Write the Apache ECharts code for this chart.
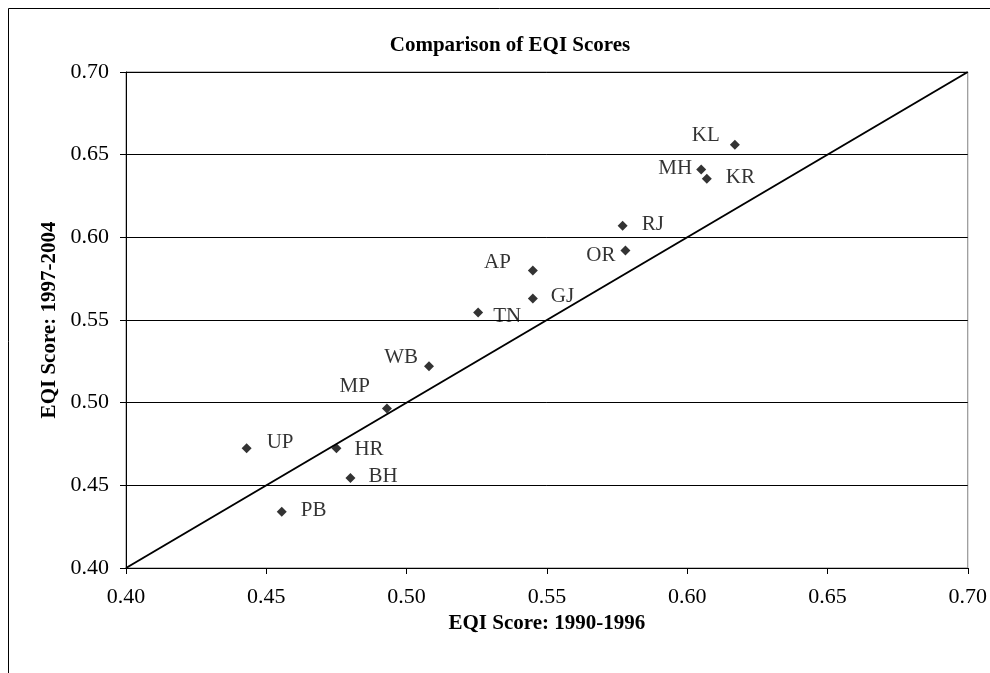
<!DOCTYPE html>
<html>
<head>
<meta charset="utf-8">
<script src="https://cdn.jsdelivr.net/npm/echarts@6/dist/echarts.min.js"></script>
<style>
html,body{margin:0;padding:0;background:#fff;}
#chart{width:990px;height:673px;}
</style>
</head>
<body>
<div id="chart"></div>
<script>
// ---- data ----
var states = ['KL','MH','KR','RJ','OR','AP','GJ','TN','WB','MP','UP','HR','BH','PB'];
var score1990 = [0.617,0.605,0.607,0.577,0.578,0.545,0.545,0.5255,0.508,0.493,0.443,0.475,0.480,0.4555];
var score1997 = [0.656,0.641,0.6355,0.607,0.592,0.580,0.563,0.5545,0.522,0.4965,0.4725,0.4725,0.4545,0.434];
var tickValues = [0.40,0.45,0.50,0.55,0.60,0.65,0.70];
var equalityLine = [[0.40,0.40],[0.70,0.70]];

// label placement (style only)
var labelStyle = {
  KL:{position:'left',distance:10,offset:[0,-9]},
  MH:{position:'left',distance:4,offset:[0,-1]},
  KR:{position:'right',distance:14,offset:[0,-1]},
  RJ:{position:'right',distance:14,offset:[0,-1]},
  OR:{position:'left',distance:5,offset:[0,5]},
  AP:{position:'left',distance:17,offset:[0,-8]},
  GJ:{position:'right',distance:13,offset:[0,-2]},
  TN:{position:'right',distance:10,offset:[0,4]},
  WB:{position:'left',distance:6,offset:[0,-9]},
  MP:{position:'left',distance:12,offset:[0,-22]},
  UP:{position:'right',distance:15,offset:[0,-6]},
  HR:{position:'right',distance:13,offset:[0,1]},
  BH:{position:'right',distance:13,offset:[0,-1]},
  PB:{position:'right',distance:14,offset:[0,-1]}
};

var FONT = '"Liberation Serif", "Times New Roman", serif';
var points = states.map(function(s,i){
  var ls = labelStyle[s];
  return {name:s, value:[score1990[i],score1997[i]],
    label:{show:true, formatter:s, position:ls.position, distance:ls.distance, offset:ls.offset}};
});

var chart = echarts.init(document.getElementById('chart'), null, {renderer:'canvas'});
var axisCommon = {
  type:'value', min:0.40, max:0.70, interval:0.05,
  axisLine:{show:true, lineStyle:{color:'#000', width:1}},
  axisTick:{show:true, inside:false, length:6, lineStyle:{color:'#000'}},
  axisLabel:{color:'#000', fontFamily:FONT, fontSize:22, formatter:function(v){return v.toFixed(2);}},
  nameLocation:'middle',
  nameTextStyle:{color:'#000', fontFamily:FONT, fontSize:21, fontWeight:'bold'}
};
chart.setOption({
  backgroundColor:'#fff',
  animation:false,
  title:{text:'Comparison of EQI Scores', left:505, top:30, textAlign:'center',
    textStyle:{color:'#000', fontFamily:FONT, fontSize:21, fontWeight:'bold'}},
  grid:{left:126, top:72, right:22, bottom:105, show:true, borderColor:'#808080', borderWidth:1, backgroundColor:'transparent'},
  xAxis:Object.assign({}, axisCommon, {
    name:'EQI Score: 1990-1996', nameGap:42,
    splitLine:{show:false},
    axisLabel:Object.assign({}, axisCommon.axisLabel, {margin:18})
  }),
  yAxis:Object.assign({}, axisCommon, {
    name:'EQI Score: 1997-2004', nameGap:64,
    splitLine:{show:true, lineStyle:{color:'#000', width:1}},
    axisLabel:Object.assign({}, axisCommon.axisLabel, {margin:17})
  }),
  graphic:[{type:'rect', shape:{x:8.5,y:8.5,width:1000,height:700}, style:{fill:null, stroke:'#000', lineWidth:1}, silent:true, z:-1}],
  series:[
    {type:'line', data:equalityLine, symbol:'none', lineStyle:{color:'#000', width:2}, silent:true, z:1},
    {type:'scatter', data:points, symbol:'diamond', symbolSize:10,
      itemStyle:{color:'#000'},
      label:{color:'#000', fontFamily:FONT, fontSize:21}, z:2}
  ]
});
</script>
</body>
</html>
